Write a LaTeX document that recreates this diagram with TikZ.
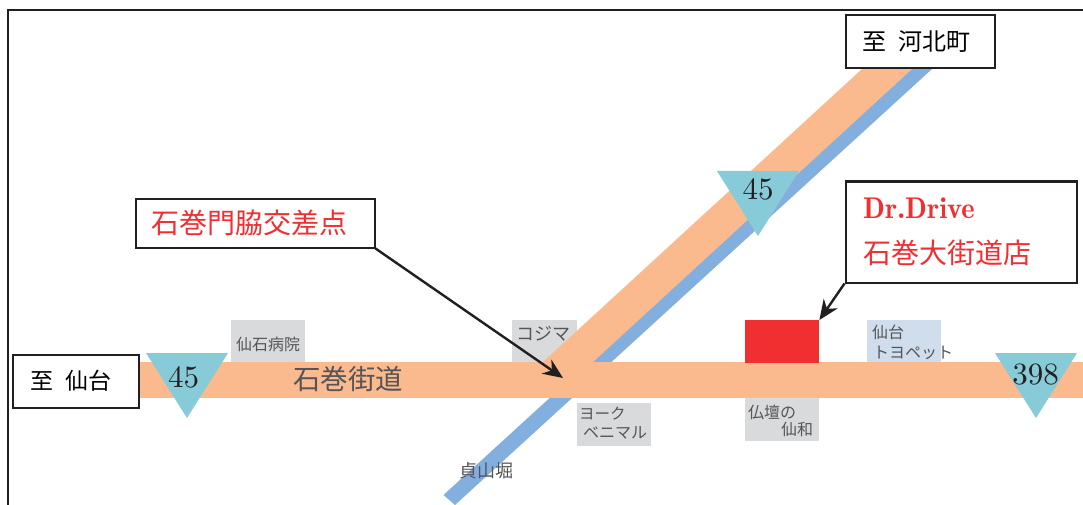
\documentclass[tikz,border=0pt]{standalone}
\usepackage{fontspec}
\usetikzlibrary{arrows.meta}
\newfontfamily\jp{Noto Sans CJK JP}
\definecolor{roadO}{HTML}{FBB98E}
\definecolor{roadB}{HTML}{83AFDE}
\definecolor{tri}{HTML}{87CAD8}
\definecolor{shop}{HTML}{D9DADC}
\definecolor{paleb}{HTML}{CFDDEC}
\definecolor{redd}{HTML}{F12E30}
\definecolor{ink}{HTML}{231F20}
\definecolor{soft}{HTML}{555558}
\newcommand{\fs}[1]{\fontsize{#1}{#1}\selectfont}
\newcommand{\numtxt}[1]{\scalebox{3.1}{\fontsize{10}{12}\selectfont #1}}
\tikzset{
  box/.style={draw=ink,line width=2pt,fill=white,inner sep=0pt,anchor=center},
  bldg/.style={inner sep=0pt,anchor=north west,minimum width=74pt,minimum height=43pt},
  lbl/.style={inner sep=0pt,anchor=west,text=soft},
  num/.style={inner sep=0pt,text=ink},
  callout/.style={draw=ink,line width=2.4pt,-{Stealth[length=20pt,width=17pt]}}
}
\begin{document}
\begin{tikzpicture}[x=1pt,y=-1pt]
\useasboundingbox (0,0) rectangle (1083,505);
% frame
\draw[ink,line width=2.2pt] (8,505) -- (8,10) -- (1083,10);
% buildings under the roads
\node[bldg,fill=shop] (byoin) at (231,320) {};
\node[bldg,fill=shop,minimum width=65pt] (kojima) at (512,320) {};
\node[bldg,fill=shop] (york) at (577,403) {};
\node[bldg,fill=shop] (butsu) at (745,398) {};
\node[bldg,fill=paleb] (toyo) at (867,320) {};
% roads
\fill[roadB] (932,69) -- (455,505) -- (443.5,495) -- (915,64) -- (932,64) -- cycle;
\fill[roadO] (862,69) -- (912,69) -- (593,362) -- (543,362) -- cycle;
\fill[roadO] (139,362) rectangle (1083,398);
\node[bldg,fill=redd] (store) at (745,320) {};
% triangles
\fill[tri] (146,353) -- (228,353) -- (187,418) -- cycle;
\fill[tri] (717,171) -- (799,171) -- (758,236) -- cycle;
\fill[tri] (995,353) -- (1077,353) -- (1036,418) -- cycle;
\node[num] (n1) at (183.5,377) {\numtxt{45}};
\node[num] (n2) at (758,189) {\numtxt{45}};
\node[num] (n3) at (1035.5,375) {\numtxt{398}};
% boxes
\node[box,minimum width=126pt,minimum height=53pt,font=\jp\fs{23}] (sendai) at (75.5,381) {至\hspace{12pt}仙台\kern9pt};
\node[box,minimum width=149pt,minimum height=53pt,font=\jp\fs{24}] (kahoku) at (920,42) {至\hspace{13pt}河北町\kern7pt};
\node[box,minimum width=239pt,minimum height=49pt,font=\jp\fs{28},text=redd] (kado) at (255,223) {石巻門脇交差点\kern11pt};
\node[box,minimum width=231pt,minimum height=101pt] (dr) at (961,232) {};
\node[inner sep=0pt,anchor=west,text=redd] (drname) at (863,208) {\scalebox{2.85}[3]{\fontsize{10}{12}\fontseries{b}\selectfont Dr.Drive}};
\node[inner sep=0pt,anchor=west,text=redd,font=\jp\fs{28}] (drshop) at (863,253) {石巻大街道店};
% labels
\node[lbl,font=\jp\fs{27.5}] (kaido) at (293,379) {石巻街道};
\node[lbl,font=\jp\fs{16}] (tb) at (236,344) {仙石病院};
\node[lbl,font=\jp\fs{18}] (tk) at (516,334) {コジマ};
\node[lbl,font=\jp\fs{15.5}] (ty1) at (579,414) {ヨーク};
\node[lbl,font=\jp\fs{16}] (ty2) at (583,433) {ベニマル};
\node[lbl,font=\jp\fs{16}] (tb1) at (748,412) {仏壇の};
\node[lbl,font=\jp\fs{16}] (tb2) at (781,429) {仙和};
\node[lbl,font=\jp\fs{16}] (tt1) at (872,332) {仙台};
\node[lbl,font=\jp\fs{16}] (tt2) at (873,353) {トヨペット};
\node[lbl,font=\jp\fs{18}] (teizan) at (459,471) {貞山堀};
% callouts
\coordinate (cross) at (563,378);
\draw[callout] (kado.south east) -- (cross);
\draw[callout] (dr.south west) -- (store.north east);
\end{tikzpicture}
\end{document}
